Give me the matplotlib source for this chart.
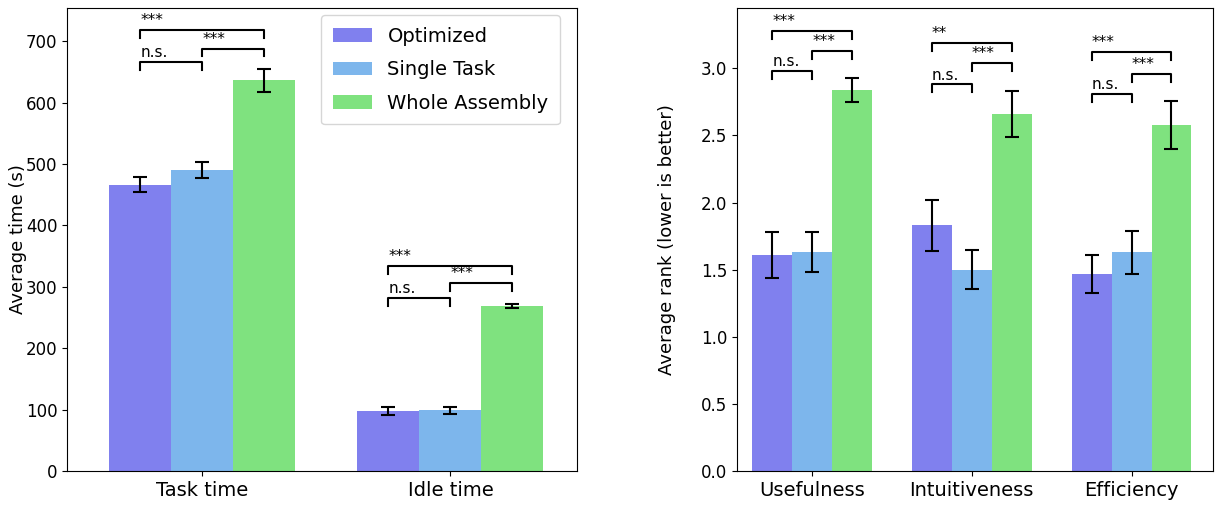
import numpy as np
from matplotlib import pyplot as plt

methods = ["Optimized", "Single Task", "Whole Assembly"]
colors = ["#8080ee", "#7db6ec", "#7fe27f"]

time_cats = ["Task time", "Idle time"]
time_mean = [[466, 98], [490, 99], [636, 269]]
time_err = [[12, 6], [13, 6], [18, 3]]
# (cat index, bar i, bar j, height, label)
time_sig = [
    (0, 0, 1, 666, "n.s."), (0, 1, 2, 688, "***"), (0, 0, 2, 718, "***"),
    (1, 0, 1, 282, "n.s."), (1, 1, 2, 306, "***"), (1, 0, 2, 334, "***"),
]

rank_cats = ["Usefulness", "Intuitiveness", "Efficiency"]
rank_mean = [[1.61, 1.83, 1.47], [1.63, 1.50, 1.63], [2.84, 2.66, 2.58]]
rank_err = [[0.17, 0.19, 0.14], [0.15, 0.145, 0.16], [0.09, 0.17, 0.18]]
rank_sig = [
    (0, 0, 1, 2.98, "n.s."), (0, 1, 2, 3.13, "***"), (0, 0, 2, 3.28, "***"),
    (1, 0, 1, 2.88, "n.s."), (1, 1, 2, 3.04, "***"), (1, 0, 2, 3.19, "**"),
    (2, 0, 1, 2.81, "n.s."), (2, 1, 2, 2.96, "***"), (2, 0, 2, 3.12, "***"),
]

width = 0.25


def bars(ax, cats, means, errs, sigs, ymax):
    x = np.arange(len(cats))
    for k in range(3):
        ax.bar(x + (k - 1) * width, means[k], width, yerr=errs[k], color=colors[k],
               label=methods[k], capsize=5, error_kw=dict(elinewidth=1.5, capthick=1.5))
    leg_h = ymax * 0.017
    for c, i, j, h, lab in sigs:
        x1 = c + (i - 1) * width
        x2 = c + (j - 1) * width
        ax.plot([x1, x1, x2, x2], [h - leg_h, h, h, h - leg_h], color="black", lw=1.5)
        ax.text(x1, h + ymax * 0.004, lab, ha="left", va="bottom", fontsize=11)
    ax.set_xticks(x)
    ax.set_xticklabels(cats, fontsize=14)
    ax.tick_params(axis="y", labelsize=12)
    ax.set_ylim(0, ymax)


fig = plt.figure(figsize=(12.15, 5.07), dpi=100)
ax1 = fig.add_axes([67 / 1215, 36 / 507, 510 / 1215, 463 / 507])
ax2 = fig.add_axes([737 / 1215, 36 / 507, 476 / 1215, 463 / 507])

bars(ax1, time_cats, time_mean, time_err, time_sig, 754)
ax1.set_xlim(-0.545, 1.51)
ax1.set_ylabel("Average time (s)", fontsize=13, labelpad=-1)
ax1.legend(loc="upper right", bbox_to_anchor=(0.967, 0.985), borderaxespad=0,
           fontsize=14, labelspacing=0.75, borderpad=0.6)

bars(ax2, rank_cats, rank_mean, rank_err, rank_sig, 3.45)
ax2.set_xlim(-0.47, 2.51)
ax2.set_ylabel("Average rank (lower is better)", fontsize=13, labelpad=18)

plt.savefig("out.png")
